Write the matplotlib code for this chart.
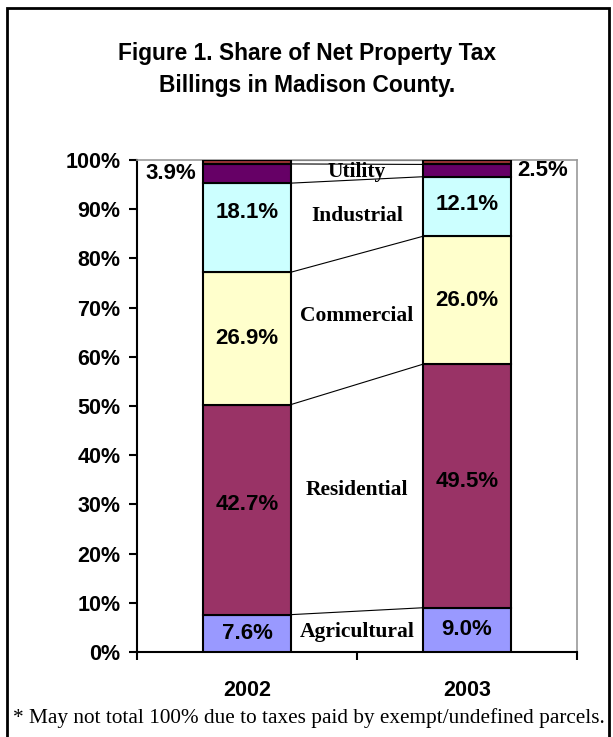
import numpy as np
import matplotlib
matplotlib.use('Agg')
import matplotlib.pyplot as plt
from matplotlib.patches import Rectangle

years = ['2002', '2003']
sectors = ['Agricultural', 'Residential', 'Commercial', 'Industrial', 'Utility', 'Other']
agricultural = [7.6, 9.0]
residential = [42.7, 49.5]
commercial = [26.9, 26.0]
industrial = [18.1, 12.1]
utility = [3.9, 2.5]
other = [0.8, 0.9]  # exempt / undefined parcels
series = [agricultural, residential, commercial, industrial, utility, other]
colors = ['#9999FF', '#993366', '#FFFFCC', '#CCFFFF', '#660066', '#993333']
show_label = [True, True, True, True, True, False]
# small vertical nudges of the labels (in %), as placed in the original
nudge = [[0, 0], [1, 1], [0, 0], [3, 0.5], [0, 0], [0, 0]]
cat_nudge = [0, 1.5, 0.6, 0.3, 0, 0]

fig = plt.figure(figsize=(6.13, 7.37), dpi=100)
ax = fig.add_axes([0.2235, 0.1153, 0.7178, 0.6676])

x = np.array([0.5, 1.5])
w = 0.4
bottom = np.zeros(2)
tops = []
for vals, col in zip(series, colors):
    v = np.array(vals)
    ax.bar(x, v, w, bottom=bottom, color=col, edgecolor='black', linewidth=1.5, zorder=3)
    tops.append((bottom.copy(), bottom + v))
    bottom = bottom + v

# series lines between bars
for b, t in tops:
    ax.plot([x[0] + w / 2, x[1] - w / 2], [t[0], t[1]], color='black', lw=0.8, zorder=2)

valfont = dict(fontsize=16, fontweight='bold', family='Liberation Sans', ha='center', va='center')
for i, (vals, (b, t)) in enumerate(zip(series, tops)):
    if not show_label[i]:
        continue
    mids = (b + t) / 2
    if sectors[i] == 'Utility':
        ax.text(x[0] - w / 2 - 0.03, mids[0], '%.1f%%' % vals[0], **{**valfont, 'ha': 'right'})
        ax.text(x[1] + w / 2 + 0.03, mids[1], '%.1f%%' % vals[1], **{**valfont, 'ha': 'left'})
    else:
        for j in range(2):
            ax.text(x[j], mids[j] + nudge[i][j], '%.1f%%' % vals[j], zorder=4, **valfont)
    ax.text(1.0, mids.mean() + cat_nudge[i], sectors[i], fontsize=15.5, fontweight='bold',
            family='Liberation Serif', ha='center', va='center', zorder=4)

ax.set_xlim(0, 2)
ax.set_ylim(0, 100)
ax.set_yticks(np.arange(0, 101, 10))
ax.set_yticklabels(['%d%%' % v for v in range(0, 101, 10)])
ax.set_xticks([0, 1, 2])
ax.set_xticklabels([])
ax.set_xticks(x, minor=True)
ax.set_xticklabels(years, minor=True)
ax.tick_params(axis='x', which='minor', length=0, pad=20)
ax.tick_params(axis='x', which='major', direction='out', length=6, width=1.5)
ax.tick_params(axis='y', direction='out', length=6, width=1.5, pad=6)
for lab in ax.get_yticklabels() + ax.get_xticklabels(minor=True):
    lab.set_fontsize(15.5)
    lab.set_fontweight('bold')
    lab.set_family('Liberation Sans')
for s in ['left', 'bottom']:
    ax.spines[s].set_linewidth(1.5)
for s in ['top', 'right']:
    ax.spines[s].set_color('#999999')
    ax.spines[s].set_linewidth(1.2)

fig.text(0.501, 0.906, 'Figure 1. Share of Net Property Tax\nBillings in Madison County.',
         ha='center', va='center', fontsize=16.4, fontweight='bold',
         family='Liberation Sans', linespacing=1.5)
fig.text(0.022, 0.026, '* May not total 100% due to taxes paid by exempt/undefined parcels.',
         ha='left', va='center', fontsize=15.3, family='Liberation Serif')

fig.add_artist(Rectangle((7 / 613, -0.01), (609 - 7) / 613, 1.01 - 8 / 737,
                         transform=fig.transFigure, fill=False, edgecolor='black', lw=2))

fig.savefig('out.png', dpi=100)
